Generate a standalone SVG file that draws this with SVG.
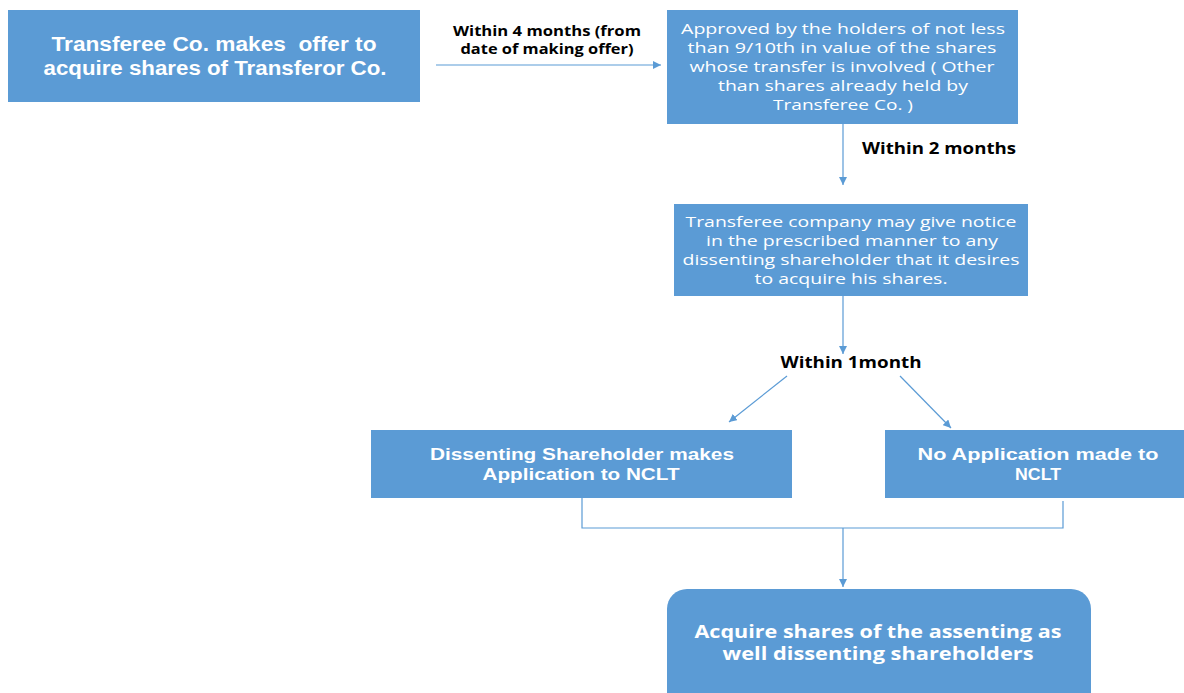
<svg xmlns="http://www.w3.org/2000/svg" width="1184" height="693" viewBox="0 0 1184 693">
<style>
.box{fill:#5B9BD5;}
.wt{fill:#fff;text-anchor:middle;}
.b1{font-family:"Liberation Sans",Arial,sans-serif;font-weight:bold;font-size:19.5px;white-space:pre;}
.w2{font-family:"Open Sans","DejaVu Sans",sans-serif;font-size:14px;}
.b4{font-family:"Liberation Sans",Arial,sans-serif;font-weight:bold;font-size:17px;}
.b6{font-family:"Open Sans","DejaVu Sans",sans-serif;font-weight:bold;font-size:17.5px;}
.lbl{fill:#000;font-family:"Open Sans","DejaVu Sans",sans-serif;font-weight:bold;text-anchor:middle;}
.ln{stroke:#5B9BD5;stroke-width:1.2;fill:none;}
</style>
<defs>
<marker id="ah" viewBox="0 0 10 10" refX="10" refY="5" markerWidth="8" markerHeight="8" markerUnits="userSpaceOnUse" orient="auto">
<path d="M0,0 L10,5 L0,10 z" fill="#5B9BD5"/>
</marker>
</defs>
<rect width="1184" height="693" fill="#fff"/>
<g id="connectors">
<line class="ln" x1="436" y1="65" x2="661" y2="65" marker-end="url(#ah)"/>
<line class="ln" x1="843" y1="124" x2="843" y2="185" marker-end="url(#ah)"/>
<line class="ln" x1="843" y1="296" x2="843" y2="354" marker-end="url(#ah)"/>
<line class="ln" x1="787" y1="376" x2="729" y2="422" marker-end="url(#ah)"/>
<line class="ln" x1="900" y1="376" x2="951" y2="428" marker-end="url(#ah)"/>
<polyline class="ln" points="582,498 582,528 1063,528 1063,501"/>
<line class="ln" x1="843" y1="528" x2="843" y2="587" marker-end="url(#ah)"/>
<text class="lbl" font-size="13.5" x="547" y="36" textLength="188" lengthAdjust="spacingAndGlyphs">Within 4 months (from</text>
<text class="lbl" font-size="13.5" x="547" y="54" textLength="173" lengthAdjust="spacingAndGlyphs">date of making offer)</text>
<text class="lbl" font-size="15.5" x="939" y="154" textLength="154" lengthAdjust="spacingAndGlyphs">Within 2 months</text>
<text class="lbl" font-size="15.5" x="851" y="368" textLength="141" lengthAdjust="spacingAndGlyphs">Within 1month</text>
</g>
<g id="n1">
<rect class="box" x="8" y="10" width="412" height="92"/>
<text class="wt b1" x="214" y="51" textLength="325" lengthAdjust="spacingAndGlyphs">Transferee Co. makes  offer to</text>
<text class="wt b1" x="215" y="75" textLength="343" lengthAdjust="spacingAndGlyphs">acquire shares of Transferor Co.</text>
</g>
<g id="n2">
<rect class="box" x="667" y="10" width="351" height="114"/>
<text class="wt w2" x="843" y="34" textLength="324" lengthAdjust="spacingAndGlyphs">Approved by the holders of not less</text>
<text class="wt w2" x="842" y="53" textLength="309" lengthAdjust="spacingAndGlyphs">than 9/10th in value of the shares</text>
<text class="wt w2" x="842" y="72" textLength="305" lengthAdjust="spacingAndGlyphs">whose transfer is involved ( Other</text>
<text class="wt w2" x="843" y="91" textLength="250" lengthAdjust="spacingAndGlyphs">than shares already held by</text>
<text class="wt w2" x="843" y="110" textLength="140" lengthAdjust="spacingAndGlyphs">Transferee Co. )</text>
</g>
<g id="n3">
<rect class="box" x="674" y="204" width="354" height="92"/>
<text class="wt w2" x="851" y="227" textLength="331" lengthAdjust="spacingAndGlyphs">Transferee company may give notice</text>
<text class="wt w2" x="852" y="246" textLength="292" lengthAdjust="spacingAndGlyphs">in the prescribed manner to any</text>
<text class="wt w2" x="851" y="265" textLength="337" lengthAdjust="spacingAndGlyphs">dissenting shareholder that it desires</text>
<text class="wt w2" x="851" y="284" textLength="193" lengthAdjust="spacingAndGlyphs">to acquire his shares.</text>
</g>
<g id="n4">
<rect class="box" x="371" y="430" width="421" height="68"/>
<text class="wt b4" x="582" y="460" textLength="304" lengthAdjust="spacingAndGlyphs">Dissenting Shareholder makes</text>
<text class="wt b4" x="581" y="480" textLength="197" lengthAdjust="spacingAndGlyphs">Application to NCLT</text>
</g>
<g id="n5">
<rect class="box" x="885" y="430" width="299" height="68"/>
<text class="wt b4" x="1038" y="460" textLength="241" lengthAdjust="spacingAndGlyphs">No Application made to</text>
<text class="wt b4" x="1038" y="480" textLength="46" lengthAdjust="spacingAndGlyphs">NCLT</text>
</g>
<g id="n6">
<rect class="box" x="667" y="589" width="424" height="124" rx="20" ry="20"/>
<text class="wt b6" x="878" y="638" textLength="367" lengthAdjust="spacingAndGlyphs">Acquire shares of the assenting as</text>
<text class="wt b6" x="878" y="660" textLength="311" lengthAdjust="spacingAndGlyphs">well dissenting shareholders</text>
</g>
</svg>
